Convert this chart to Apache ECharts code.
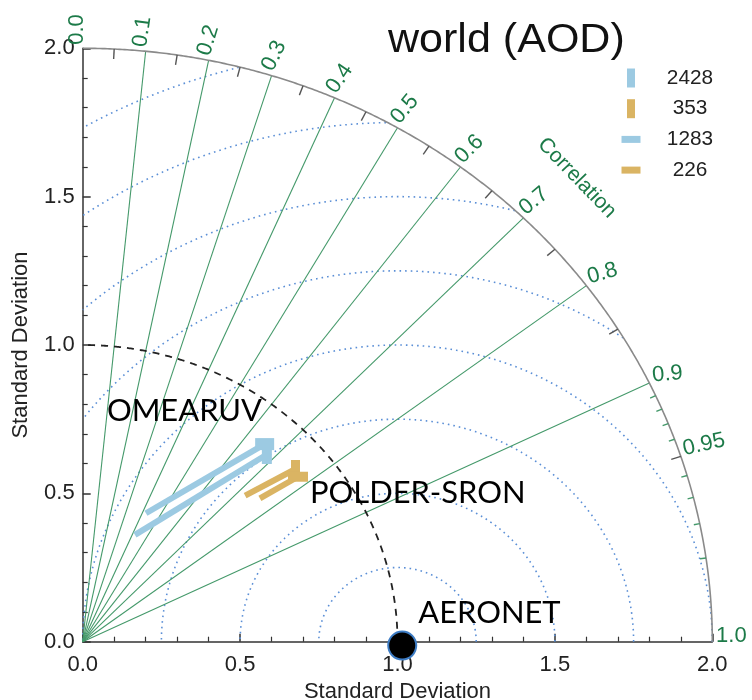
<!DOCTYPE html>
<html><head><meta charset="utf-8">
<script src="https://cdn.jsdelivr.net/npm/echarts@6/dist/echarts.min.js"></script>
<style>html,body{margin:0;padding:0;background:#fff}#c{width:752px;height:700px}</style>
</head><body><div id="c"></div>
<script>
// ---------- data ----------
const chartTitle = 'world (AOD)';
const axisTitle = 'Standard Deviation';
const corrTitle = 'Correlation';
const stdMax = 2.0;
const refStd = 1.0;
const corrRays = [0.1, 0.2, 0.3, 0.4, 0.5, 0.6, 0.7, 0.8, 0.9];
const corrLabelValues = [0.0, 0.1, 0.2, 0.3, 0.4, 0.5, 0.6, 0.7, 0.8, 0.9, 0.95, 1.0];
const corrLabels = ['0.0', '0.1', '0.2', '0.3', '0.4', '0.5', '0.6', '0.7', '0.8', '0.9', '0.95', '1.0'];
const corrMinorTicks = [0.05, 0.15, 0.25, 0.35, 0.45, 0.55, 0.65, 0.75, 0.85, 0.95];
const corrFineTicks = [0.91, 0.92, 0.93, 0.94, 0.96, 0.97, 0.98, 0.99];
const rmsRadii = [0.25, 0.5, 0.75, 1.0, 1.25, 1.5, 1.75, 2.0];
const seriesNames = ['2428', '353', '1283', '226'];
// arrow start / end points (x, y components of standard deviation)
const arrow2428 = [[0.166, 0.360], [0.585, 0.631]];
const arrow353  = [[0.516, 0.492], [0.676, 0.582]];
const arrow1283 = [[0.201, 0.433], [0.578, 0.666]];
const arrow226  = [[0.563, 0.483], [0.684, 0.556]];
const referencePoint = [1.015, -0.013];
const annotationNames = ['OMEARUV', 'POLDER-SRON', 'AERONET'];

// ---------- styles ----------
const BLUE = '#9ccae2', TAN = '#dab463';
const GREEN_TXT = '#1c7a48', RAY = '#44996a', DOT = '#5b8fd6';
const FONT = '"Liberation Sans", Arial, Helvetica, sans-serif';
const labelRot = [90, 82, 73, 64, 56, 50, 45, 40, 16, 5, 13, 0];
const annotationAnchors = [[0.077, 0.726], [0.722, 0.450], [1.066, 0.045]];
const markerShape = {'2428': [10, 19], '353': [9, 18], '1283': [19, 12], '226': [20, 10]};
const arrowData = {'2428': arrow2428, '353': arrow353, '1283': arrow1283, '226': arrow226};
const arrowColor = {'2428': BLUE, '353': TAN, '1283': BLUE, '226': TAN};

const chart = echarts.init(document.getElementById('c'), null, {renderer: 'canvas'});

function corrPt(r, c) { return [r * c, r * Math.sqrt(Math.max(0, 1 - c * c))]; }

const axisCommon = {
  type: 'value', min: 0, max: 2, interval: 0.5,
  axisLine: {show: true, lineStyle: {color: '#333', width: 1.5}},
  axisTick: {show: true, inside: true, length: 8, lineStyle: {color: '#333', width: 1.5}},
  minorTick: {show: true, splitNumber: 5, length: 5, lineStyle: {color: '#333', width: 1.2}},
  splitLine: {show: false}, minorSplitLine: {show: false},
  axisLabel: {formatter: v => v.toFixed(1), fontSize: 22, color: '#222', fontFamily: FONT},
  name: axisTitle, nameLocation: 'middle',
  nameTextStyle: {fontSize: 22, color: '#222', fontFamily: FONT}
};

const series = [];

// RMS circles (dotted blue)
series.push({
  type: 'custom', coordinateSystem: 'cartesian2d', clip: false, silent: true, z: 1,
  data: rmsRadii.map(r => [r, 0]),
  renderItem: (params, api) => {
    const r = rmsRadii[params.dataIndex];
    const pts = [];
    for (let i = 0; i <= 900; i++) {
      const th = Math.PI * i / 900;
      const x = refStd + r * Math.cos(th), y = r * Math.sin(th);
      if (x >= 0 && x * x + y * y <= stdMax * stdMax + 1e-9) pts.push(api.coord([x, y]));
    }
    return {type: 'polyline', shape: {points: pts},
      style: {stroke: DOT, lineWidth: 1.6, lineDash: [1.6, 4], fill: 'none'}};
  }
});

// correlation rays
series.push({
  type: 'custom', coordinateSystem: 'cartesian2d', clip: false, silent: true, z: 2,
  data: corrRays.map(c => [c, 0]),
  renderItem: (params, api) => {
    const c = corrRays[params.dataIndex];
    const o = api.coord([0, 0]), p = api.coord(corrPt(stdMax, c));
    return {type: 'line', shape: {x1: o[0], y1: o[1], x2: p[0], y2: p[1]},
      style: {stroke: RAY, lineWidth: 1.1}};
  }
});

// outer arc + reference arc
series.push({
  type: 'custom', coordinateSystem: 'cartesian2d', clip: false, silent: true, z: 3,
  data: [[stdMax, 0], [refStd, 0]],
  renderItem: (params, api) => {
    const r = params.dataIndex === 0 ? stdMax : refStd;
    const pts = [];
    for (let i = 0; i <= 400; i++) {
      const th = Math.PI / 2 * i / 400;
      pts.push(api.coord([r * Math.cos(th), r * Math.sin(th)]));
    }
    return params.dataIndex === 0
      ? {type: 'polyline', shape: {points: pts}, style: {stroke: '#8a8a8a', lineWidth: 1.6, fill: 'none'}}
      : {type: 'polyline', shape: {points: pts}, style: {stroke: '#222', lineWidth: 1.8, lineDash: [7, 6], fill: 'none'}};
  }
});

// ticks on outer arc
const allArcTicks = corrMinorTicks.map(c => ({c, fine: false})).concat(corrFineTicks.map(c => ({c, fine: true})));
series.push({
  type: 'custom', coordinateSystem: 'cartesian2d', clip: false, silent: true, z: 4,
  data: allArcTicks.map(t => [t.c, 0]),
  renderItem: (params, api) => {
    const t = allArcTicks[params.dataIndex];
    const p = api.coord(corrPt(stdMax, t.c)), o = api.coord([0, 0]);
    const dx = o[0] - p[0], dy = o[1] - p[1], d = Math.hypot(dx, dy);
    const len = t.fine ? 6 : 10;
    return {type: 'line', shape: {x1: p[0], y1: p[1], x2: p[0] + dx / d * len, y2: p[1] + dy / d * len},
      style: {stroke: t.fine ? RAY : '#555', lineWidth: 1.4}};
  }
});

// correlation labels
series.push({
  type: 'custom', coordinateSystem: 'cartesian2d', clip: false, silent: true, z: 6,
  data: corrLabelValues.map(c => [c, 0]),
  renderItem: (params, api) => {
    const i = params.dataIndex;
    const p = api.coord(corrPt(stdMax * 1.006, corrLabelValues[i]));
    const a = labelRot[i] * Math.PI / 180;
    return {type: 'text', x: p[0] + 5 * Math.sin(a), y: p[1] + 5 * Math.cos(a),
      rotation: a,
      style: {text: corrLabels[i], fill: GREEN_TXT, fontSize: 22, fontFamily: FONT,
        align: 'left', verticalAlign: 'bottom'}};
  }
});

// "Correlation" caption
series.push({
  type: 'custom', coordinateSystem: 'cartesian2d', clip: false, silent: true, z: 6,
  data: [[1, 1]],
  renderItem: (params, api) => {
    const p = api.coord(corrPt(2.22, Math.SQRT1_2));
    return {type: 'text', x: p[0], y: p[1] + 2, rotation: -46 * Math.PI / 180,
      style: {text: corrTitle, fill: GREEN_TXT, fontSize: 21, fontFamily: FONT,
        align: 'center', verticalAlign: 'middle'}};
  }
});

// arrows
seriesNames.forEach(n => {
  series.push({
    type: 'line', name: n + ' arrow', data: arrowData[n], symbol: 'none', clip: false, z: 8,
    lineStyle: {width: 6, color: arrowColor[n], cap: 'butt'}, silent: true
  });
});
seriesNames.forEach(n => {
  series.push({
    type: 'scatter', name: n, data: [arrowData[n][1]], symbol: 'rect', symbolSize: markerShape[n],
    itemStyle: {color: arrowColor[n], opacity: 1}, clip: false, z: 9, silent: true
  });
});

// reference point (AERONET)
series.push({
  type: 'scatter', name: 'AERONET', data: [referencePoint], symbol: 'circle', symbolSize: 28,
  itemStyle: {color: '#000', borderColor: '#3d7cc4', borderWidth: 2, opacity: 1}, clip: false, z: 10, silent: true
});

// annotations
series.push({
  type: 'custom', coordinateSystem: 'cartesian2d', clip: false, silent: true, z: 11,
  data: annotationAnchors,
  renderItem: (params, api) => {
    const p = api.coord(annotationAnchors[params.dataIndex]);
    return {type: 'text', x: p[0], y: p[1], scaleX: 1.03,
      style: {text: annotationNames[params.dataIndex], fill: '#000', fontSize: 30,
        fontFamily: 'Lato, "Open Sans", sans-serif', align: 'left', verticalAlign: 'bottom'}};
  }
});

// legend (graphic)
const legendGraphics = [];
seriesNames.forEach((n, i) => {
  const cy = 78 + i * 30.7;
  const vertical = i < 2;
  const w = vertical ? 8 : 19, h = vertical ? 19 : 7;
  legendGraphics.push({type: 'rect', left: 631 - w / 2, top: cy - h / 2,
    shape: {width: w, height: h}, style: {fill: arrowColor[n]}});
  legendGraphics.push({type: 'text', x: 690, y: cy, scaleX: 1.04,
    style: {text: n, fontSize: 20, fontFamily: FONT, fill: '#222', align: 'center', verticalAlign: 'middle'}});
});

chart.setOption({
  animation: false,
  backgroundColor: '#fff',
  grid: {left: 82.7, top: 48.3, right: 752 - 712.3, bottom: 700 - 641.7, containLabel: false, outerBoundsMode: 'none'},
  xAxis: Object.assign({}, axisCommon, {
    axisLabel: Object.assign({}, axisCommon.axisLabel, {margin: 12}), nameGap: 34
  }),
  yAxis: Object.assign({}, axisCommon, {
    axisLabel: Object.assign({}, axisCommon.axisLabel, {margin: 8}), nameGap: 51
  }),
  graphic: [
    {type: 'text', x: 388, y: 61, scaleX: 1.05,
      style: {text: chartTitle, fontSize: 41, fontFamily: FONT, fill: '#111', align: 'left', verticalAlign: 'bottom'}}
  ].concat(legendGraphics),
  series: series
});
</script>
</body></html>
